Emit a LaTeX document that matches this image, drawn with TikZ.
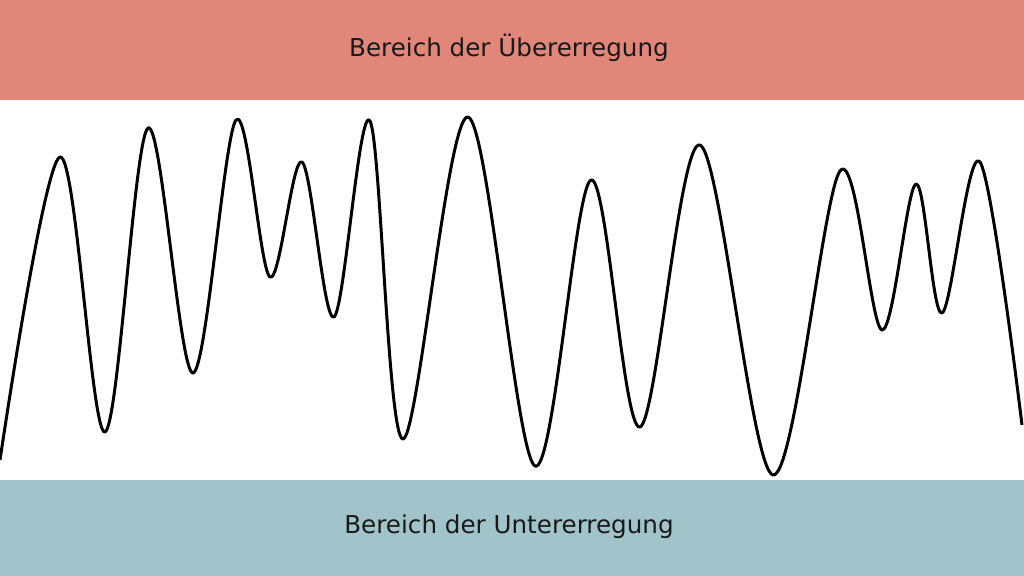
\documentclass[tikz,border=0pt]{standalone}
\usepackage{fontspec}
\setmainfont{DejaVu Sans}
\definecolor{overred}{HTML}{E0877A}
\definecolor{underblue}{HTML}{A0C4CA}
\begin{document}
\begin{tikzpicture}[x=0.01cm,y=-0.01cm,
    band/.style={font=\fontsize{7}{8}\selectfont, text=black!90}]
        \useasboundingbox (0,0) rectangle (1024,576);
        \fill[white] (0,0) rectangle (1024,576);
        \fill[overred] (0,0) rectangle (1024,100);
        \fill[underblue] (0,480) rectangle (1024,576);
        \node[band] (over) at(509,48){Bereich der Übererregung};
        \node[band] (under) at(509,527){Bereich der Untererregung};

        \draw[line width=0.85pt, line join=round] plot[smooth, tension=0.55] coordinates {
          (0,460) (60,157) (105,432) (148,128) (193,373) (236,120) (270,277)
          (302,162) (334,317) (370,121) (403,439) (468,117) (535,466) (591,180)
          (640,427) (700,145) (773,475) (840,171) (882,330) (916,184) (942,313)
          (980,162) (1022,425)};
      \end{tikzpicture}
\end{document}
